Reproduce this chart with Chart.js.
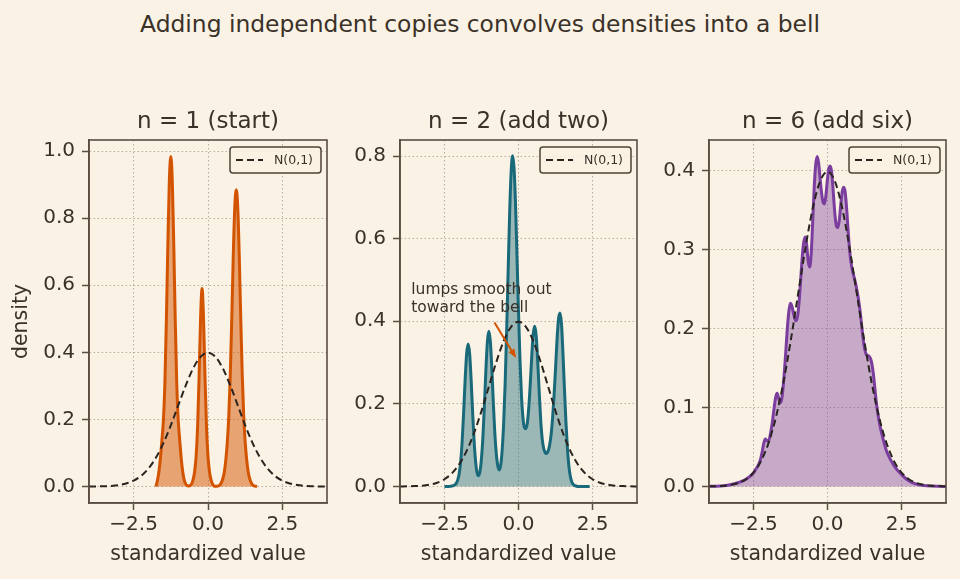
<!DOCTYPE html>
<html>
<head>
<meta charset="utf-8">
<script src="https://cdn.jsdelivr.net/npm/chart.js@4.4.1/dist/chart.umd.min.js"></script>
<style>
  html, body { margin: 0; padding: 0; background: #faf2e4; }
  body { width: 960px; height: 579px; position: relative; overflow: hidden; font-family: 'DejaVu Sans', sans-serif; }
  #suptitle { position: absolute; left: 0; top: 9px; width: 960px; text-align: center; font-size: 23.4px; line-height: 30px; color: #3a3129; }
  .panel { position: absolute; top: 95px; height: 484px; }
</style>
</head>
<body>
<div id="suptitle">Adding independent copies convolves densities into a bell</div>
<div class="panel" style="left:0;width:335px"><canvas id="panel-1"></canvas></div>
<div class="panel" style="left:335px;width:310px"><canvas id="panel-2"></canvas></div>
<div class="panel" style="left:645px;width:315px"><canvas id="panel-6"></canvas></div>
<script>
const FONT = 'DejaVu Sans';
const TEXT = '#3a3129';
const SPINE = '#5b4e42';
const GRID = '#b9ae9e';
const NORMAL_COLOR = '#2a2420';

const X_TICKS = [-2.5, 0, 2.5];
const N1_Y_TICKS = [0, 0.2, 0.4, 0.6, 0.8, 1.0];
const N2_Y_TICKS = [0, 0.2, 0.4, 0.6, 0.8];
const N6_Y_TICKS = [0, 0.1, 0.2, 0.3, 0.4];

// N(0,1) reference curve
const NORMAL_X = [-4, -3.75, -3.5, -3.25, -3, -2.75, -2.5, -2.25, -2, -1.75, -1.5, -1.25, -1, -0.75, -0.5, -0.25,
  0, 0.25, 0.5, 0.75, 1, 1.25, 1.5, 1.75, 2, 2.25, 2.5, 2.75, 3, 3.25, 3.5, 3.75, 4];
const NORMAL_Y = [0.0001, 0.0004, 0.0009, 0.0020, 0.0044, 0.0091, 0.0175, 0.0317, 0.0540, 0.0863, 0.1295, 0.1826, 0.2420, 0.3011, 0.3521, 0.3867,
  0.3989, 0.3867, 0.3521, 0.3011, 0.2420, 0.1826, 0.1295, 0.0863, 0.0540, 0.0317, 0.0175, 0.0091, 0.0044, 0.0020, 0.0009, 0.0004, 0.0001];

// n = 1
const N1_X = [-1.75, -1.70, -1.65, -1.60, -1.55, -1.50, -1.45, -1.40, -1.35, -1.30, -1.25, -1.20, -1.15, -1.10, -1.05, -1.00,
  -0.95, -0.90, -0.85, -0.80, -0.75, -0.70, -0.65, -0.60, -0.55, -0.50, -0.45, -0.40, -0.35, -0.30, -0.25, -0.20,
  -0.15, -0.10, -0.05, 0.00, 0.05, 0.10, 0.15, 0.20, 0.25, 0.30, 0.35, 0.40, 0.45, 0.50, 0.55, 0.60,
  0.65, 0.70, 0.75, 0.80, 0.85, 0.90, 0.95, 1.00, 1.05, 1.10, 1.15, 1.20, 1.25, 1.30, 1.35, 1.40,
  1.45, 1.50, 1.55, 1.60, 1.65];
const N1_Y = [0, 0.018, 0.044, 0.084, 0.138, 0.197, 0.305, 0.492, 0.718, 0.910, 0.984, 0.910, 0.718, 0.492, 0.305, 0.197,
  0.138, 0.084, 0.044, 0.020, 0.008, 0.003, 0.002, 0.003, 0.008, 0.021, 0.044, 0.089, 0.177, 0.325, 0.500, 0.590,
  0.500, 0.325, 0.177, 0.089, 0.044, 0.021, 0.008, 0.002, 0.001, 0.001, 0.002, 0.005, 0.012, 0.024, 0.044, 0.080,
  0.133, 0.212, 0.336, 0.504, 0.690, 0.832, 0.885, 0.832, 0.690, 0.504, 0.336, 0.212, 0.133, 0.080, 0.044, 0.024,
  0.012, 0.005, 0.002, 0.001, 0];

// n = 2
const N2_X = [-2.50, -2.45, -2.40, -2.35, -2.30, -2.25, -2.20, -2.15, -2.10, -2.05, -2.00, -1.95, -1.90, -1.85, -1.80, -1.75,
  -1.70, -1.65, -1.60, -1.55, -1.50, -1.45, -1.40, -1.35, -1.30, -1.25, -1.20, -1.15, -1.10, -1.05, -1.00, -0.95,
  -0.90, -0.85, -0.80, -0.75, -0.70, -0.65, -0.60, -0.55, -0.50, -0.45, -0.40, -0.35, -0.30, -0.25, -0.20, -0.15,
  -0.10, -0.05, 0.00, 0.05, 0.10, 0.15, 0.20, 0.25, 0.30, 0.35, 0.40, 0.45, 0.50, 0.55, 0.60, 0.65,
  0.70, 0.75, 0.80, 0.85, 0.90, 0.95, 1.00, 1.05, 1.10, 1.15, 1.20, 1.25, 1.30, 1.35, 1.40, 1.45,
  1.50, 1.55, 1.60, 1.65, 1.70, 1.75, 1.80, 1.85, 1.90, 1.95, 2.00, 2.05, 2.10, 2.15, 2.20, 2.25,
  2.30, 2.35, 2.40];
const N2_Y = [0, 0, 0, 0, 0.0005, 0.001, 0.002, 0.004, 0.008, 0.016, 0.032, 0.062, 0.112, 0.182, 0.260, 0.322,
  0.345, 0.322, 0.260, 0.182, 0.112, 0.062, 0.034, 0.026, 0.036, 0.068, 0.122, 0.198, 0.283, 0.351, 0.376, 0.351,
  0.286, 0.203, 0.130, 0.080, 0.050, 0.040, 0.052, 0.090, 0.155, 0.251, 0.377, 0.520, 0.658, 0.759, 0.801, 0.771,
  0.682, 0.555, 0.423, 0.306, 0.220, 0.167, 0.143, 0.140, 0.155, 0.194, 0.252, 0.319, 0.371, 0.388, 0.363, 0.301,
  0.227, 0.160, 0.115, 0.092, 0.082, 0.080, 0.086, 0.100, 0.125, 0.165, 0.220, 0.285, 0.355, 0.405, 0.420, 0.395,
  0.323, 0.238, 0.158, 0.094, 0.050, 0.024, 0.011, 0.005, 0.002, 0.001, 0, 0, 0, 0, 0, 0,
  0, 0, 0];

// n = 6
const N6_X = [-4.00, -3.75, -3.50, -3.25, -3.00, -2.75,
  -2.50, -2.45, -2.40, -2.35, -2.30, -2.25, -2.20, -2.15, -2.10, -2.05, -2.00, -1.95, -1.90, -1.85, -1.80, -1.75,
  -1.70, -1.65, -1.60, -1.55, -1.50, -1.45, -1.40, -1.35, -1.30, -1.25, -1.20, -1.15, -1.10, -1.05, -1.00, -0.95,
  -0.90, -0.85, -0.80, -0.75, -0.70, -0.65, -0.60, -0.55, -0.50, -0.45, -0.40, -0.35, -0.30, -0.25, -0.20, -0.15,
  -0.10, -0.05, 0.00, 0.05, 0.10, 0.15, 0.20, 0.25, 0.30, 0.35, 0.40, 0.45, 0.50, 0.55, 0.60, 0.65,
  0.70, 0.75, 0.80, 0.85, 0.90, 0.95, 1.00, 1.05, 1.10, 1.15, 1.20, 1.25, 1.30, 1.35, 1.40, 1.45,
  1.50, 1.55, 1.60, 1.65, 1.70, 1.75, 1.80, 1.85, 1.90, 1.95, 2.00,
  2.25, 2.50, 2.75, 3.00, 3.25, 3.50, 3.75, 4.00];
const N6_Y = [0.0001, 0.0003, 0.001, 0.0025, 0.005, 0.009,
  0.017, 0.020, 0.023, 0.026, 0.030, 0.036, 0.045, 0.055, 0.060, 0.058, 0.057, 0.062, 0.072, 0.085, 0.100, 0.113,
  0.118, 0.112, 0.106, 0.110, 0.125, 0.148, 0.175, 0.203, 0.223, 0.232, 0.228, 0.220, 0.212, 0.210, 0.218, 0.238,
  0.265, 0.292, 0.310, 0.316, 0.305, 0.285, 0.278, 0.295, 0.335, 0.378, 0.407, 0.418, 0.410, 0.390, 0.372, 0.360,
  0.358, 0.370, 0.390, 0.404, 0.406, 0.395, 0.370, 0.345, 0.330, 0.328, 0.338, 0.358, 0.374, 0.379, 0.372, 0.350,
  0.322, 0.298, 0.282, 0.272, 0.265, 0.257, 0.247, 0.236, 0.222, 0.205, 0.188, 0.175, 0.168, 0.166, 0.165, 0.162,
  0.155, 0.142, 0.124, 0.106, 0.092, 0.081, 0.072, 0.064, 0.057, 0.050, 0.044,
  0.026, 0.015, 0.007, 0.003, 0.0012, 0.0004, 0.0001, 0];

// annotation on the n = 2 panel, in data units
const NOTE_LINES = ['lumps smooth out', 'toward the bell'];
const NOTE_X = -3.62;
const NOTE_LINE_Y = [0.476, 0.433];
const NOTE_ARROW_FROM = [-0.81, 0.397];
const NOTE_ARROW_TO = [-0.08, 0.311];

const toPoints = (xs, ys) => xs.map((x, i) => ({ x, y: ys[i] }));
const fmtTick = (v) => (v < 0 ? '\u2212' : '') + Math.abs(v).toFixed(1);

// spines, panel title and the N(0,1) legend box
const framePlugin = {
  id: 'frame',
  afterDraw(chart) {
    const { ctx, chartArea: a } = chart;
    ctx.save();
    ctx.strokeStyle = SPINE;
    ctx.lineWidth = 1.6;
    ctx.strokeRect(a.left, a.top, a.right - a.left, a.bottom - a.top);

    ctx.fillStyle = TEXT;
    ctx.font = `23px ${FONT}`;
    ctx.textAlign = 'center';
    ctx.textBaseline = 'middle';
    ctx.fillText(chart.options.panelTitle, (a.left + a.right) / 2, a.top - 18);

    const w = 91, h = 26;
    const bx = a.right - 6 - w, by = a.top + 7;
    ctx.fillStyle = 'rgba(250,242,228,0.85)';
    ctx.beginPath();
    ctx.roundRect(bx, by, w, h, 3);
    ctx.fill();
    ctx.lineWidth = 1.5;
    ctx.strokeStyle = '#4d4236';
    ctx.stroke();
    ctx.setLineDash([7, 4]);
    ctx.strokeStyle = NORMAL_COLOR;
    ctx.lineWidth = 2;
    ctx.beginPath();
    ctx.moveTo(bx + 6, by + h / 2);
    ctx.lineTo(bx + 33, by + h / 2);
    ctx.stroke();
    ctx.setLineDash([]);
    ctx.fillStyle = TEXT;
    ctx.font = `12.5px ${FONT}`;
    ctx.textAlign = 'left';
    ctx.fillText('N(0,1)', bx + 44, by + h / 2 + 0.5);
    ctx.restore();
  },
};

const notePlugin = {
  id: 'note',
  afterDatasetsDraw(chart) {
    const { ctx, scales: { x, y } } = chart;
    ctx.save();
    ctx.fillStyle = TEXT;
    ctx.font = `15.5px ${FONT}`;
    ctx.textBaseline = 'middle';
    NOTE_LINES.forEach((line, i) => {
      ctx.fillText(line, x.getPixelForValue(NOTE_X), y.getPixelForValue(NOTE_LINE_Y[i]));
    });
    const x0 = x.getPixelForValue(NOTE_ARROW_FROM[0]), y0 = y.getPixelForValue(NOTE_ARROW_FROM[1]);
    const x1 = x.getPixelForValue(NOTE_ARROW_TO[0]), y1 = y.getPixelForValue(NOTE_ARROW_TO[1]);
    const ang = Math.atan2(y1 - y0, x1 - x0);
    const head = 9;
    ctx.strokeStyle = '#d35400';
    ctx.fillStyle = '#d35400';
    ctx.lineWidth = 2;
    ctx.beginPath();
    ctx.moveTo(x0, y0);
    ctx.lineTo(x1 - head * 0.8 * Math.cos(ang), y1 - head * 0.8 * Math.sin(ang));
    ctx.stroke();
    ctx.beginPath();
    ctx.moveTo(x1, y1);
    ctx.lineTo(x1 - head * Math.cos(ang) + 3.5 * Math.sin(ang), y1 - head * Math.sin(ang) - 3.5 * Math.cos(ang));
    ctx.lineTo(x1 - head * Math.cos(ang) - 3.5 * Math.sin(ang), y1 - head * Math.sin(ang) + 3.5 * Math.cos(ang));
    ctx.closePath();
    ctx.fill();
    ctx.restore();
  },
};

function makePanel(canvasId, p) {
  const axisFont = { family: FONT, size: 20 };
  const plugins = [framePlugin];
  if (p.note) plugins.push(notePlugin);

  return new Chart(document.getElementById(canvasId), {
    type: 'line',
    data: {
      datasets: [
        {
          label: 'N(0,1)',
          data: toPoints(NORMAL_X, NORMAL_Y),
          borderColor: NORMAL_COLOR,
          borderWidth: 2,
          borderDash: [7, 4],
          fill: false,
          pointRadius: 0,
          cubicInterpolationMode: 'monotone',
        },
        {
          label: p.title,
          data: toPoints(p.xs, p.ys),
          borderColor: p.color,
          backgroundColor: p.fillColor,
          borderWidth: 3,
          fill: 'origin',
          pointRadius: 0,
          cubicInterpolationMode: 'monotone',
        },
      ],
    },
    options: {
      panelTitle: p.title,
      responsive: true,
      maintainAspectRatio: false,
      animation: false,
      layout: { padding: { left: 0, right: p.padRight, top: 45, bottom: 0 } },
      plugins: {
        legend: { display: false },
        tooltip: { enabled: false },
        title: { display: false },
      },
      scales: {
        x: {
          type: 'linear',
          min: -4,
          max: 4,
          afterBuildTicks: (s) => { s.ticks = X_TICKS.map((v) => ({ value: v })); },
          afterFit: (s) => { s.height = 76; },
          ticks: { callback: fmtTick, color: TEXT, font: axisFont, padding: 3, maxRotation: 0, autoSkip: false },
          grid: { color: GRID, lineWidth: 1, tickLength: 7, tickColor: SPINE, tickWidth: 1.5 },
          border: { color: SPINE, width: 1.6, dash: [1.5, 2.5] },
          title: { display: true, text: 'standardized value', color: TEXT, font: { family: FONT, size: 20.5 }, padding: { top: 0, bottom: 12 } },
        },
        y: {
          min: p.yMin,
          max: p.yMax,
          afterBuildTicks: (s) => { s.ticks = p.yTicks.map((v) => ({ value: v })); },
          afterFit: (s) => { s.width = p.yAxisWidth; },
          ticks: { callback: fmtTick, color: TEXT, font: axisFont, padding: 7, autoSkip: false },
          grid: { color: GRID, lineWidth: 1, tickLength: 7, tickColor: SPINE, tickWidth: 1.5 },
          border: { color: SPINE, width: 1.6, dash: [1.5, 2.5] },
          title: { display: !!p.yLabel, text: p.yLabel || '', color: TEXT, font: { family: FONT, size: 20.5 }, padding: { top: 9, bottom: 0 } },
        },
      },
    },
    plugins,
  });
}

makePanel('panel-1', {
  title: 'n = 1 (start)', xs: N1_X, ys: N1_Y,
  color: '#d35400', fillColor: 'rgba(211,84,0,0.5)',
  yMin: -0.049, yMax: 1.033, yTicks: N1_Y_TICKS, yLabel: 'density', yAxisWidth: 89, padRight: 8,
});
makePanel('panel-2', {
  title: 'n = 2 (add two)', xs: N2_X, ys: N2_Y,
  color: '#19697a', fillColor: 'rgba(25,105,122,0.42)',
  yMin: -0.040, yMax: 0.839, yTicks: N2_Y_TICKS, yAxisWidth: 65, padRight: 8, note: true,
});
makePanel('panel-6', {
  title: 'n = 6 (add six)', xs: N6_X, ys: N6_Y,
  color: '#7b3d9e', fillColor: 'rgba(123,61,158,0.4)',
  yMin: -0.021, yMax: 0.439, yTicks: N6_Y_TICKS, yAxisWidth: 64, padRight: 14,
});
</script>
</body>
</html>
